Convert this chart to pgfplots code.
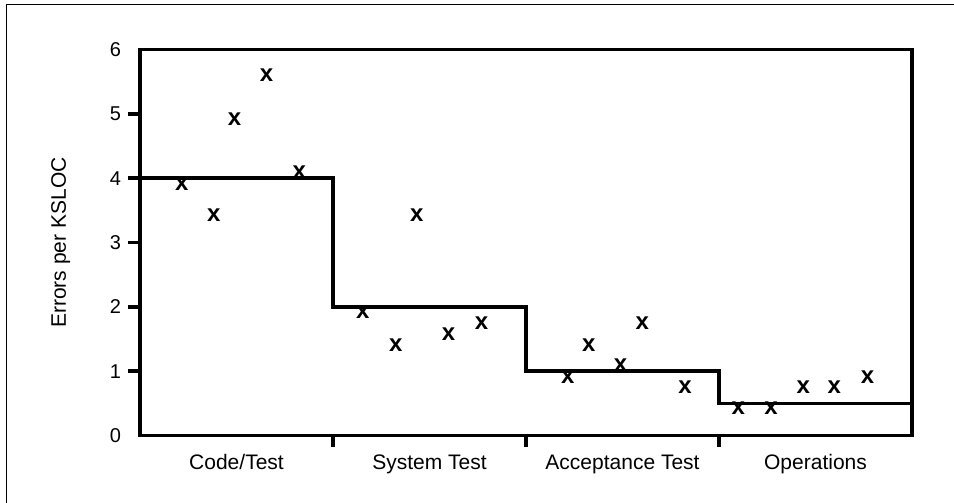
\documentclass[border=0pt]{standalone}
\usepackage{fontspec}
\setmainfont{Liberation Sans}
\usepackage{pgfplots}
\pgfplotsset{compat=1.18}
\begin{document}
\begin{tikzpicture}
\useasboundingbox (0,0) rectangle (477pt,251.5pt);
\draw[line width=0.5pt] (3.35pt,-1pt) -- (3.35pt,249pt) -- (478pt,249pt);
\begin{axis}[
  at={(70pt,33.75pt)}, anchor=south west,
  scale only axis, width=386pt, height=193pt,
  xmin=0, xmax=4, ymin=0, ymax=6,
  axis line style={line width=1.75pt, black},
  clip=false,
  tick align=outside,
  xtick pos=bottom, ytick pos=left,
  major tick length=6pt,
  every tick/.style={line width=1.75pt, black},
  /pgf/number format/assume math mode=true,
  ytick={1,2,3,4,5},
  extra y ticks={0,6},
  extra y tick style={major tick length=0pt, yticklabel style={xshift=-6pt}},
  yticklabel style={font=\fontsize{10}{12}\selectfont, black},
  xtick={1,2,3}, xticklabels={},
  extra x ticks={0.5,1.5,2.5,3.5},
  extra x tick labels={Code/Test, System Test, Acceptance Test, Operations},
  extra x tick style={major tick length=0pt, xticklabel style={font=\fontsize{10.5}{12}\selectfont, anchor=base, yshift=-17.25pt}},
  ylabel={Errors per KSLOC},
  ylabel style={font=\fontsize{10.5}{12}\selectfont, at={(axis description cs:-0.0959,0.5)}, anchor=base},
]
\addplot[const plot, line width=1.75pt, black] coordinates {(0,4) (1,2) (2,1) (3,0.5) (4.01,0.5)};
\addplot[only marks, mark=text, text mark={x}, text mark as node=true,
  text mark style={font=\bfseries\fontsize{12}{12}\selectfont, inner sep=0pt, anchor=center}]
  table {
x y
0.216 3.91
0.383 3.43
0.490 4.91
0.656 5.60
0.825 4.10
1.154 1.91
1.326 1.41
1.434 3.43
1.599 1.58
1.770 1.74
2.216 0.91
2.326 1.40
2.490 1.09
2.603 1.75
2.824 0.75
3.100 0.42
3.270 0.42
3.437 0.75
3.598 0.75
3.770 0.91
};
\end{axis}
\end{tikzpicture}
\end{document}
